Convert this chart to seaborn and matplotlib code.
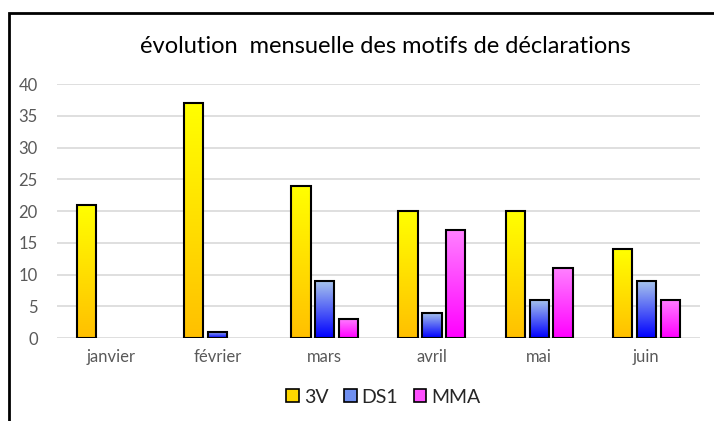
import numpy as np
import pandas as pd
import matplotlib
matplotlib.use("Agg")
import matplotlib.pyplot as plt
import seaborn as sns
from matplotlib.colors import LinearSegmentedColormap
from matplotlib.patches import Rectangle

mois = ["janvier", "février", "mars", "avril", "mai", "juin"]
series = ["3V", "DS1", "MMA"]
v_3v = [21, 37, 24, 20, 20, 14]
v_ds1 = [0, 1, 9, 4, 6, 9]
v_mma = [0, 0, 3, 17, 11, 6]

# gradient colours, top -> bottom of each bar
grad = {
    "3V": ("#ffff00", "#ffc000"),
    "DS1": ("#a9c6ec", "#0000ff"),
    "MMA": ("#ff80ff", "#ff00ff"),
}
legend_col = {"3V": "#ffd800", "DS1": "#6f8ff0", "MMA": "#ff50ff"}

df = pd.DataFrame({
    "mois": mois * 3,
    "motif": ["3V"] * 6 + ["DS1"] * 6 + ["MMA"] * 6,
    "n": v_3v + v_ds1 + v_mma,
})

sns.set_style("white")
plt.rcParams['font.family'] = ['Lato', 'DejaVu Sans']

fig = plt.figure(figsize=(7.14, 4.21), dpi=100)
ax = fig.add_axes([0.08, 0.197, 0.9, 0.603])

pal = {k: grad[k][1] for k in series}
sns.barplot(data=df, x="mois", y="n", hue="motif", hue_order=series,
            palette=pal, width=0.67, gap=0.2, ax=ax, legend=False,
            edgecolor="black", linewidth=1.5, saturation=1)

# replace flat fills with vertical gradients
for container, name in zip(ax.containers, series):
    cmap = LinearSegmentedColormap.from_list(name, [grad[name][1], grad[name][0]])
    for bar in container:
        h = bar.get_height()
        if h <= 0:
            bar.set_visible(False)
            continue
        x0, w = bar.get_x(), bar.get_width()
        img = ax.imshow(np.linspace(0, 1, 100).reshape(-1, 1), cmap=cmap,
                        extent=[x0, x0 + w, 0, h], origin="lower",
                        aspect="auto", zorder=bar.get_zorder() - 0.1)
        img.set_clip_path(bar)
        bar.set_facecolor("none")

ax.set_xlim(-0.5, 5.5)
ax.set_ylim(0, 40)
ax.set_yticks(range(0, 41, 5))
ax.yaxis.grid(True, color="#d9d9d9", linewidth=1.2)
ax.set_axisbelow(True)
for s in ax.spines.values():
    s.set_visible(False)
ax.tick_params(axis="both", colors="#595959", labelsize=12, length=0)
ax.tick_params(axis="x", pad=8)
ax.tick_params(axis="y", pad=14)
ax.set_xlabel("")
ax.set_ylabel("")

fig.text(0.54, 0.89, "évolution  mensuelle des motifs de déclarations",
         ha="center", va="center", fontsize=17, color="black")

handles = [Rectangle((0, 0), 1, 1, facecolor=legend_col[k], edgecolor="black",
                     linewidth=1.2) for k in series]
fig.legend(handles, series, loc="center", bbox_to_anchor=(0.537, 0.057),
           ncol=3, frameon=False, fontsize=14, handlelength=0.65,
           handleheight=0.65, handletextpad=0.25, columnspacing=0.8)

# chart frame
fig.add_artist(Rectangle((0.012, -0.05), 1.1, 1.02, transform=fig.transFigure,
                         fill=False, edgecolor="black", linewidth=2))

fig.savefig("out.png", dpi=100)
